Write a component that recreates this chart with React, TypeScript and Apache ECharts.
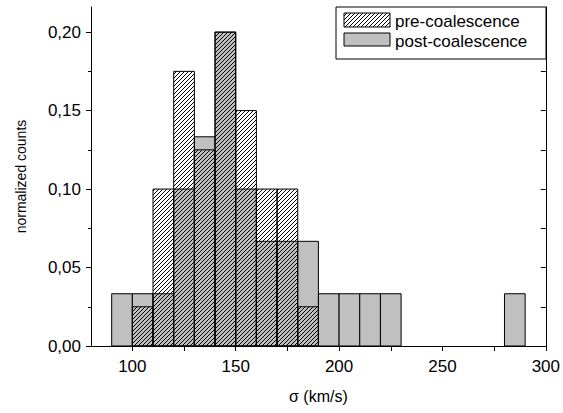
import React, { useEffect, useRef } from "react";
import * as echarts from "echarts";

// ---- data ----
const BIN_WIDTH = 10;
const preStarts = [100, 110, 120, 130, 140, 150, 160, 170, 180];
const preValues = [0.025, 0.1, 0.175, 0.125, 0.2, 0.15, 0.1, 0.1, 0.025];
const postStarts = [90, 100, 110, 120, 130, 140, 150, 160, 170, 180, 190, 200, 210, 220, 280];
const postValues = [0.0333, 0.0333, 0.0333, 0.1, 0.1333, 0.2, 0.1, 0.0667, 0.0667, 0.0667, 0.0333, 0.0333, 0.0333, 0.0333, 0.0333];
const xMajorTicks = [100, 150, 200, 250, 300];
const xMinorTicks = [125, 175, 225, 275];
const xTopTicks = [100, 125, 150, 175, 200, 225, 250, 275];
const yMajorTicks = [0, 0.05, 0.1, 0.15, 0.2];
const yMinorTicks = [0.025, 0.075, 0.125, 0.175];
const yRightTicks = [0.025, 0.05, 0.075, 0.1, 0.125, 0.15, 0.175, 0.2];
const seriesNames = ["pre-coalescence", "post-coalescence"];
const xTitle = "σ (km/s)";
const yTitle = "normalized counts";

const FONT = "'Liberation Sans', Arial, sans-serif";
const GRAY = "#c0c0c0";
const HATCH_STEP = 4;

function hatchLines(x0: number, y0: number, x1: number, y1: number, z?: number) {
  const out: any[] = [];
  let c = Math.ceil((x0 + y0) / HATCH_STEP) * HATCH_STEP;
  const cMax = x1 + y1;
  for (; c <= cMax; c += HATCH_STEP) {
    const xa = Math.max(x0, c - y1);
    const xb = Math.min(x1, c - y0);
    if (xb > xa) {
      const el: any = {
        type: "line",
        shape: { x1: xa, y1: c - xa, x2: xb, y2: c - xb },
        style: { stroke: "#000", lineWidth: 1 },
        silent: true,
      };
      if (z !== undefined) el.z = z;
      out.push(el);
    }
  }
  return out;
}

function makeRender(hatched: boolean) {
  return (params: any, api: any) => {
    const s = api.value(0);
    const v = api.value(1);
    const p0 = api.coord([s, 0]);
    const p1 = api.coord([s + BIN_WIDTH, v]);
    const x = p0[0];
    const y = p1[1];
    const w = p1[0] - p0[0];
    const h = p0[1] - p1[1];
    if (!hatched) {
      return {
        type: "rect",
        shape: { x, y, width: w, height: h },
        style: { fill: GRAY, stroke: "#000", lineWidth: 1 },
      };
    }
    return {
      type: "group",
      children: [
        ...hatchLines(x, y, x + w, y + h),
        {
          type: "rect",
          shape: { x, y, width: w, height: h },
          style: { fill: "none", stroke: "#000", lineWidth: 1 },
        },
      ],
    };
  };
}

const fmt = (v: number) => v.toFixed(2).replace(".", ",");

export default function App() {
  const ref = useRef<HTMLDivElement>(null);
  useEffect(() => {
    if (!ref.current) return;
    const chart = echarts.init(ref.current, undefined, { renderer: "svg" });

    const legX = 336, legY = 7, legW = 210, legH = 52;
    const sw1 = { x: 344, y: 13, w: 46, h: 14 };
    const sw2 = { x: 344, y: 33, w: 46, h: 13 };

    const axisLine = { show: true, lineStyle: { color: "#000", width: 1 } };
    const labelStyle = { color: "#000", fontFamily: FONT, fontSize: 17 };

    chart.setOption({
      animation: false,
      backgroundColor: "#fff",
      grid: { left: 91, top: 7, right: 17, bottom: 67, containLabel: false },
      xAxis: [
        {
          type: "value", min: 80, max: 300, position: "bottom",
          axisLine,
          splitLine: { show: false },
          axisTick: { show: true, length: 5, inside: false, customValues: xMajorTicks, lineStyle: { color: "#000" } },
          axisLabel: { ...labelStyle, margin: 12, customValues: xMajorTicks },
          name: xTitle, nameLocation: "middle", nameGap: 42,
          nameTextStyle: { ...labelStyle, fontSize: 16 },
        },
        {
          type: "value", min: 80, max: 300, position: "bottom", offset: 0,
          axisLine: { show: false },
          splitLine: { show: false },
          axisTick: { show: true, length: 3, inside: false, customValues: xMinorTicks, lineStyle: { color: "#000" } },
          axisLabel: { show: false },
        },
        {
          type: "value", min: 80, max: 300, position: "top",
          axisLine,
          splitLine: { show: false },
          axisTick: { show: true, length: 5, inside: true, customValues: xTopTicks, lineStyle: { color: "#000" } },
          axisLabel: { show: false },
        },
      ],
      yAxis: [
        {
          type: "value", min: 0, max: 0.216, position: "left",
          axisLine,
          splitLine: { show: false },
          axisTick: { show: true, length: 5, inside: false, customValues: yMajorTicks, lineStyle: { color: "#000" } },
          axisLabel: { ...labelStyle, margin: 10, customValues: yMajorTicks, formatter: (v: number) => fmt(v) },
          name: yTitle, nameLocation: "middle", nameGap: 63, nameRotate: 90,
          nameTextStyle: { color: "#000", fontFamily: FONT, fontSize: 14 },
        },
        {
          type: "value", min: 0, max: 0.216, position: "left", offset: 0,
          axisLine: { show: false },
          splitLine: { show: false },
          axisTick: { show: true, length: 3, inside: false, customValues: yMinorTicks, lineStyle: { color: "#000" } },
          axisLabel: { show: false },
        },
        {
          type: "value", min: 0, max: 0.216, position: "right",
          axisLine,
          splitLine: { show: false },
          axisTick: { show: true, length: 5, inside: true, customValues: yRightTicks, lineStyle: { color: "#000" } },
          axisLabel: { show: false },
        },
      ],
      series: [
        {
          name: seriesNames[1],
          type: "custom",
          xAxisIndex: 0, yAxisIndex: 0,
          renderItem: makeRender(false),
          encode: { x: 0, y: 1 },
          data: postStarts.map((s, i) => [s, postValues[i]]),
          z: 2,
        },
        {
          name: seriesNames[0],
          type: "custom",
          xAxisIndex: 0, yAxisIndex: 0,
          renderItem: makeRender(true),
          encode: { x: 0, y: 1 },
          data: preStarts.map((s, i) => [s, preValues[i]]),
          z: 3,
        },
      ],
      graphic: [
        {
          type: "rect", z: 10,
          shape: { x: legX, y: legY, width: legW, height: legH },
          style: { fill: "#fff", stroke: "#000", lineWidth: 1 },
        },
        ...hatchLines(sw1.x, sw1.y, sw1.x + sw1.w, sw1.y + sw1.h, 12),
        {
          type: "rect", z: 12,
          shape: { x: sw1.x, y: sw1.y, width: sw1.w, height: sw1.h },
          style: { fill: "none", stroke: "#000", lineWidth: 1 },
        },
        {
          type: "rect", z: 12,
          shape: { x: sw2.x, y: sw2.y, width: sw2.w, height: sw2.h },
          style: { fill: GRAY, stroke: "#000", lineWidth: 1 },
        },
        {
          type: "text", z: 12, x: 395, y: 21,
          style: { text: seriesNames[0], fill: "#000", font: `17px ${FONT}`, verticalAlign: "middle", align: "left" },
        },
        {
          type: "text", z: 12, x: 395, y: 41,
          style: { text: seriesNames[1], fill: "#000", font: `17px ${FONT}`, verticalAlign: "middle", align: "left" },
        },
      ],
    });
    return () => chart.dispose();
  }, []);
  return <div ref={ref} style={{ width: 563, height: 413, position: "absolute", left: 0, top: 0 }} />;
}
